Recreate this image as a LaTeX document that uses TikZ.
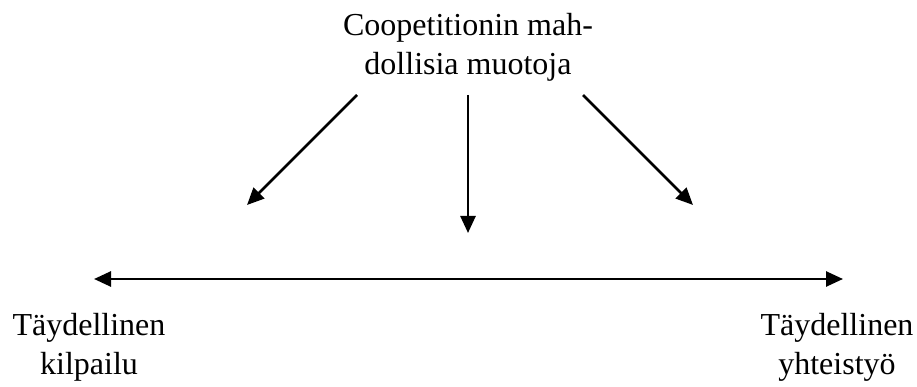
\documentclass[tikz,border=0pt]{standalone}
\usepackage{fontspec}
\setmainfont{Liberation Serif}
\usetikzlibrary{arrows.meta}
\tikzset{
  lbl/.style={font=\fontsize{32}{39}\selectfont, align=center, inner sep=0pt, anchor=north},
  arr/.style={line width=2.6pt, -{Triangle[length=17pt,width=15pt]}},
  darr/.style={line width=2.6pt, {Triangle[length=17pt,width=15pt]}-{Triangle[length=17pt,width=15pt]}}
}
\begin{document}
\begin{tikzpicture}[x=1pt,y=-1pt]
\useasboundingbox (0,0) rectangle (917,387);
\node[lbl] (top) at (468,13) {Coopetitionin mah-\\dollisia muotoja};
\node[lbl] (left) at (89,313) {Täydellinen\\kilpailu};
\node[lbl] (right) at (837,313) {Täydellinen\\yhteistyö};
\coordinate (s1) at (357,95);
\coordinate (s2) at (468,95);
\coordinate (s3) at (583,95);
\coordinate (e1) at (247,205);
\coordinate (e2) at (468,233);
\coordinate (e3) at (693,205);
\coordinate (hl) at (94,279);
\coordinate (hr) at (843,279);
\draw[arr] (s1) -- (e1);
\draw[arr] (s2) -- (e2);
\draw[arr] (s3) -- (e3);
\draw[darr] (hl) -- (hr);
\end{tikzpicture}
\end{document}
